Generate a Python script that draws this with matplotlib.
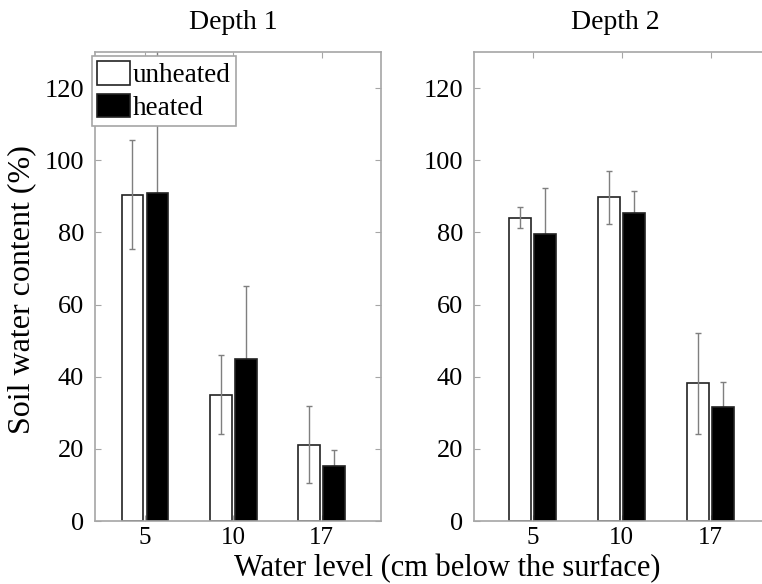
import matplotlib.pyplot as plt
import numpy as np

plt.rcParams['font.family'] = ['Liberation Serif', 'DejaVu Serif']

levels = ['5', '10', '17']
# Depth 1
d1_unheated = [90.5, 35.0, 21.2]
d1_unheated_err = [15.0, 11.0, 10.7]
d1_heated = [91.0, 44.8, 15.3]
d1_heated_err = [42.0, 20.4, 4.5]
# Depth 2
d2_unheated = [84.1, 89.7, 38.2]
d2_unheated_err = [3.0, 7.4, 14.0]
d2_heated = [79.6, 85.4, 31.6]
d2_heated_err = [12.8, 6.2, 7.0]

W, H = 762, 584
fig = plt.figure(figsize=(W / 100, H / 100), dpi=100)

spine_col = '#a6a6a6'
err_col = '#7f7f7f'


def px(x0, y0, x1, y1):
    # pixel box -> figure fraction [left, bottom, width, height]
    return [x0 / W, 1 - y1 / H, (x1 - x0) / W, (y1 - y0) / H]


def panel(ax, unh, unh_e, hea, hea_e, xlim):
    x = np.arange(1, len(levels) + 1)
    off, bw = 0.1415, 0.245
    ax.errorbar(x + off, hea, yerr=[np.zeros(3), hea_e], fmt='none',
                ecolor=err_col, elinewidth=1, capsize=2, capthick=1, zorder=1)
    ax.bar(x - off, unh, bw, color='white', edgecolor='#222222',
           linewidth=1.2, zorder=2, label='unheated')
    ax.bar(x + off, hea, bw, color='black', edgecolor='#222222',
           linewidth=1.2, zorder=2, label='heated')
    ax.errorbar(x - off, unh, yerr=unh_e, fmt='none', ecolor=err_col,
                elinewidth=1, capsize=2, capthick=1, zorder=3)
    ax.set_xlim(*xlim)
    ax.set_ylim(0, 130)
    ax.set_xticks(x)
    ax.set_xticklabels(levels)
    ax.set_yticks(np.arange(0, 121, 20))
    ax.tick_params(direction='in', length=4, color=spine_col, labelsize=19,
                   top=True, right=True)
    ax.tick_params(axis='y', pad=8)
    ax.tick_params(axis='x', pad=4, labelsize=18)
    for s in ax.spines.values():
        s.set_color(spine_col)
        s.set_linewidth(1.2)


ax1 = fig.add_axes(px(95, 52, 381, 521))
panel(ax1, d1_unheated, d1_unheated_err, d1_heated, d1_heated_err,
      (0.434, 3.673))

ax2 = fig.add_axes(px(474, 52, 774, 521))
panel(ax2, d2_unheated, d2_unheated_err, d2_heated, d2_heated_err,
      (0.34, 0.34 + 300 / 89.0))

fig.text(233 / W, 1 - 29 / H, 'Depth 1', ha='center', va='baseline',
         fontsize=20)
fig.text(615 / W, 1 - 29 / H, 'Depth 2', ha='center', va='baseline',
         fontsize=20)
fig.text(22 / W, 1 - 290 / H, 'Soil water content (%)', ha='center',
         va='center', rotation=90, fontsize=23)
fig.text(447 / W, 1 - 576 / H, 'Water level (cm below the surface)',
         ha='center', va='baseline', fontsize=22)

leg = ax1.legend(loc='upper left', bbox_to_anchor=(92 / W, 1 - 56 / H),
                 bbox_transform=fig.transFigure, borderaxespad=0,
                 fontsize=19.5, handlelength=1.2, handleheight=0.95,
                 handletextpad=0.1, labelspacing=0.2, borderpad=0.2,
                 fancybox=False, framealpha=1)
leg.get_frame().set_edgecolor(spine_col)
leg.get_frame().set_linewidth(1.2)

fig.savefig('out.png', dpi=100)
